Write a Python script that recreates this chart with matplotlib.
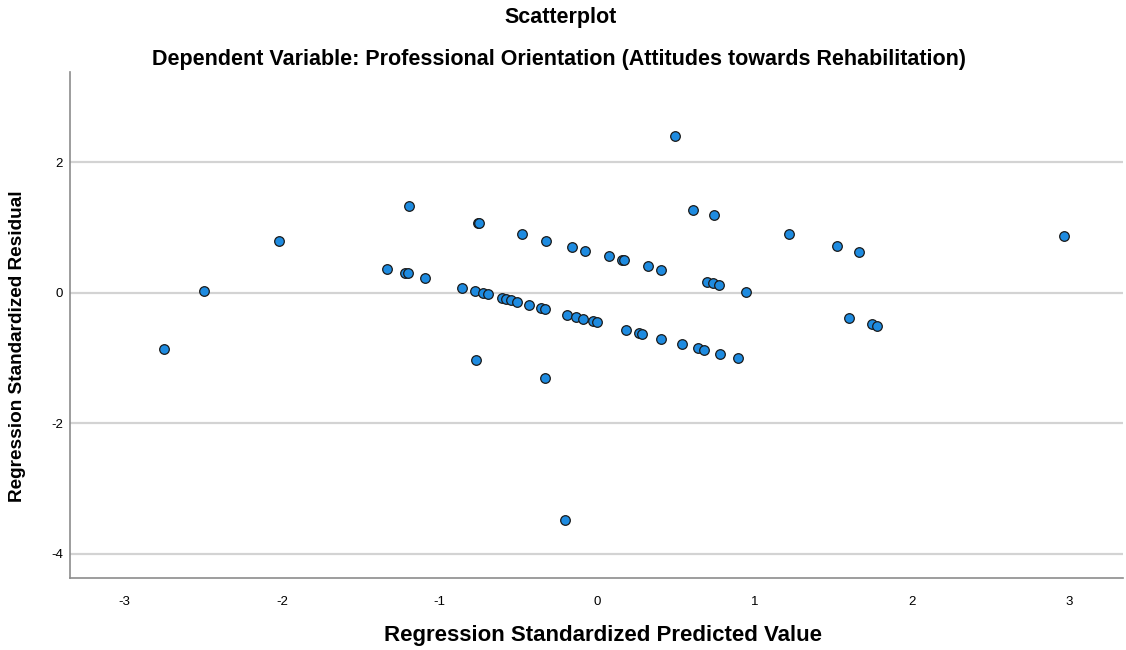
import matplotlib
matplotlib.use('Agg')
import matplotlib.pyplot as plt

plt.rcParams['font.family'] = ['Liberation Sans', 'DejaVu Sans']

# standardized predicted value (x) and standardized residual (y)
pred = [-2.747, -2.495, -2.021, -1.333, -1.219, -1.202, -1.09, -1.192,
        0.495, -0.757, -0.749, -0.768, -0.330, 0.612, 0.743,
        -0.476, -0.324, -0.157, -0.074, 0.078, 0.159, 0.171, 0.324, 0.406,
        0.698, 0.735, 0.773, 0.944,
        -0.857, -0.777, -0.724, -0.694, -0.603, -0.576, -0.548, -0.508,
        -0.432, -0.358, -0.332, -0.19, -0.131, -0.087, -0.027, 0.002,
        0.182, 0.267, 0.286, 0.408, 0.54, 0.643, 0.677, 0.779, 0.895,
        1.221, 1.524, 1.663, 2.963, 1.60, 1.746, 1.778, -0.203]
resid = [-0.858, 0.03, 0.80, 0.37, 0.30, 0.30, 0.22, 1.33,
         2.40, 1.067, 1.067, -1.026, -1.30, 1.27, 1.19,
         0.894, 0.80, 0.70, 0.643, 0.557, 0.50, 0.496, 0.404, 0.348,
         0.168, 0.144, 0.123, 0.015,
         0.077, 0.026, -0.005, -0.02, -0.086, -0.097, -0.112, -0.138,
         -0.188, -0.234, -0.25, -0.342, -0.377, -0.398, -0.433, -0.453,
         -0.566, -0.622, -0.628, -0.704, -0.786, -0.851, -0.872, -0.934, -1.005,
         0.897, 0.71, 0.623, 0.873, -0.392, -0.479, -0.505, -3.48]

xticks = [-3, -2, -1, 0, 1, 2, 3]
yticks = [-4, -2, 0, 2]

fig = plt.figure(figsize=(11.26, 6.5), dpi=100)
ax = fig.add_axes([0.0622, 0.1108, 0.9351, 0.7782])

ax.scatter(pred, resid, s=48, c='#1e8be0', edgecolors='#1a1a1a', linewidths=0.9, zorder=3)

ax.set_xlim(-3.345, 3.34)
ax.set_ylim(-4.37, 3.38)
ax.set_xticks(xticks)
ax.set_yticks(yticks)
ax.set_xticklabels([str(t) for t in xticks])
ax.set_yticklabels([str(t) for t in yticks])
ax.tick_params(length=0, labelsize=9.5)
ax.tick_params(axis='x', pad=13)
ax.tick_params(axis='y', pad=5)
ax.grid(axis='y', color='#d3d3d3', linewidth=1.6)
ax.set_axisbelow(True)

for s in ['top', 'right']:
    ax.spines[s].set_visible(False)
for s in ['left', 'bottom']:
    ax.spines[s].set_color('#8c8c8c')
    ax.spines[s].set_linewidth(1.2)

fig.text(561 / 1126, 1 - 18 / 650, 'Scatterplot', ha='center', va='center', fontsize=15.5, fontweight='bold')
fig.text(559 / 1126, 1 - 60 / 650, 'Dependent Variable: Professional Orientation (Attitudes towards Rehabilitation)',
         ha='center', va='center', fontsize=15.5, fontweight='bold')
fig.text(603 / 1126, 1 - 636 / 650, 'Regression Standardized Predicted Value', ha='center', va='center',
         fontsize=16, fontweight='bold')
fig.text(18 / 1126, 1 - 346 / 650, 'Regression Standardized Residual', ha='center', va='center',
         rotation=90, fontsize=13.7, fontweight='bold')

fig.savefig('out.png', dpi=100)
